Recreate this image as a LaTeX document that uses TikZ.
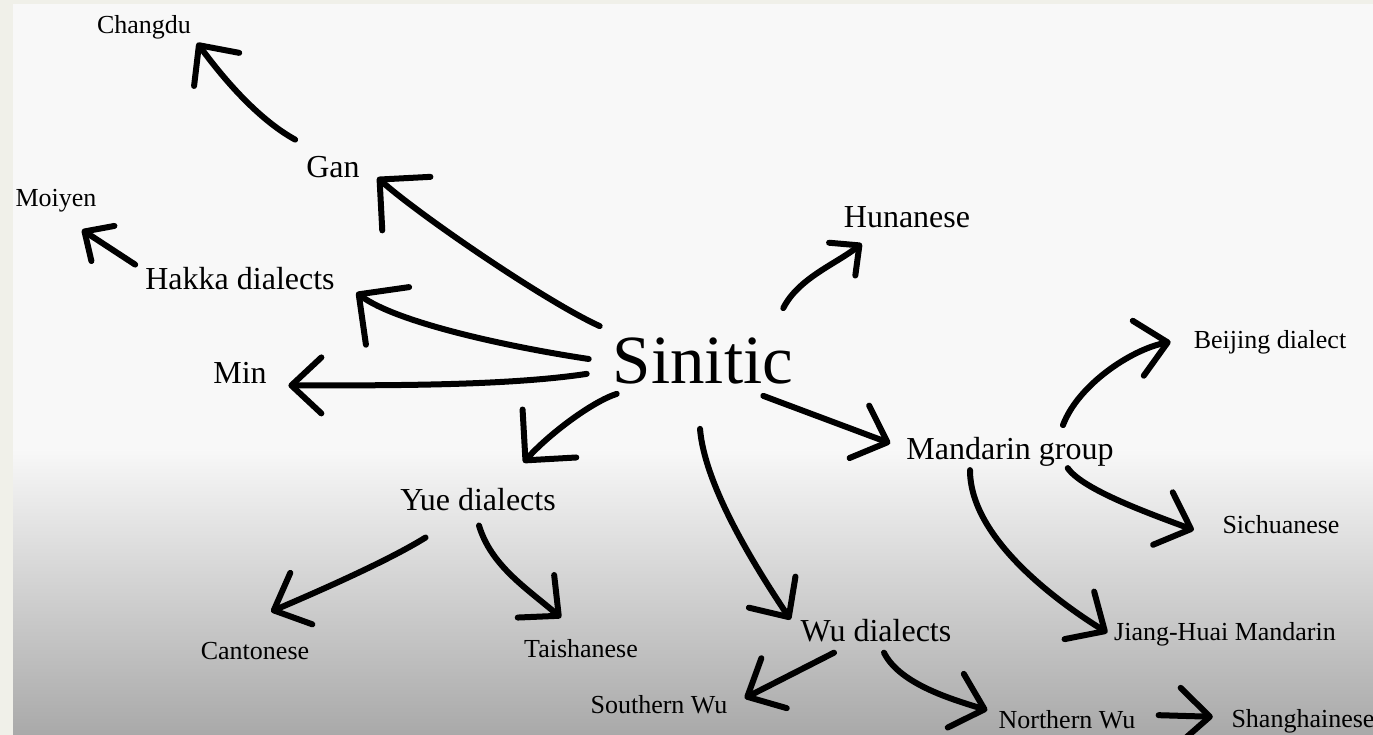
\documentclass[tikz,border=0pt]{standalone}
\usepackage{fontspec}
\setmainfont{Liberation Serif}
\usepackage{tikz}
\usetikzlibrary{backgrounds, arrows.meta}
\definecolor{marble}{RGB}{240,240,233}
\definecolor{paper}{RGB}{248,248,248}
\definecolor{paperlow}{RGB}{214,214,214}
\definecolor{paperend}{RGB}{169,169,169}
\tikzstyle{huge} = [inner sep=0pt, anchor=base, font=\fontsize{69}{80}\selectfont]
\tikzstyle{mid} = [inner sep=0pt, anchor=base, font=\fontsize{32}{38}\selectfont]
\tikzstyle{leaf} = [inner sep=0pt, anchor=base, font=\fontsize{26}{31}\selectfont]
\tikzstyle{hand} = [line width=6pt, line cap=round, line join=round]
\tikzstyle{bighead} = [-{Straight Barb[length=36pt,width=72pt,round]}]
\tikzstyle{midhead} = [-{Straight Barb[length=30pt,width=56pt,round]}]
\tikzstyle{smallhead} = [-{Straight Barb[length=22pt,width=42pt,round]}]

\begin{document}
\begin{tikzpicture}[x=1pt,y=-1pt]

\useasboundingbox (0,0) rectangle (1373,735);

\node (sinitic) [huge] at (703,383) {Sinitic};
\node (gan) [mid] at (333,178) {Gan};
\node (changdu) [leaf] at (144,34) {Changdu};
\node (hakka) [mid] at (240,290) {Hakka dialects};
\node (moiyen) [leaf] at (56,207) {Moiyen};
\node (min) [mid] at (240,383) {Min};
\node (hunanese) [mid] at (907,228) {Hunanese};
\node (mandarin) [mid] at (1010,459) {Mandarin group};
\node (beijing) [leaf] at (1270,348) {Beijing dialect};
\node (sichuanese) [leaf] at (1281,533) {Sichuanese};
\node (jianghuai) [leaf] at (1225,640) {Jiang-Huai Mandarin};
\node (yue) [mid] at (478,510) {Yue dialects};
\node (cantonese) [leaf] at (255,659) {Cantonese};
\node (taishanese) [leaf] at (581,657) {Taishanese};
\node (wu) [mid] at (876,641) {Wu dialects};
\node (southernwu) [leaf] at (659,713) {Southern Wu};
\node (northernwu) [leaf] at (1067,728) {Northern Wu};
\node (shanghainese) [leaf] at (1303,727) {Shanghainese};

\begin{scope}[on background layer]
    \fill[marble] (0,0) rectangle (1373,735);
    \fill[paper] (13,4) rectangle (1373,450);
    \shade[top color=paper, middle color=paperlow, bottom color=paperend] (13,449) rectangle (1373,735);
\end{scope}

% west side
\draw[hand,bighead] ([shift={(-13,-11)}]sinitic.north west) .. controls +(-55,-25) and +(40,36) .. ([shift={(17.5,-1)}]gan.south east);
\draw[hand,midhead] ([shift={(-11,-17)}]gan.north west) .. controls +(-40,-22) and +(22,30) .. ([shift={(6,3)}]changdu.south east);
\draw[hand,bighead] ([shift={(-24,-1.5)}]sinitic.west) .. controls +(-80,-12) and +(40,30) .. ([shift={(21.5,2)}]hakka.south east);
\draw[hand,smallhead] ([shift={(-10,-3)}]hakka.north west) -- ([shift={(26,17)}]moiyen.south);
\draw[hand,midhead] ([shift={(-26,-10)}]sinitic.south west) .. controls +(-80,12) and +(100,0) .. ([shift={(21.5,13)}]min.east);

% east side
\draw[hand,smallhead] ([shift={(-10,-29)}]sinitic.north east) .. controls +(15,-30) and +(-25,20) .. ([shift={(18,15)}]hunanese.south west);
\draw[hand,midhead] ([shift={(-30,12)}]sinitic.south east) -- ([shift={(-16,-8)}]mandarin.west);
\draw[hand,midhead] ([shift={(53,-11.5)}]mandarin.north) .. controls +(15,-40) and +(-40,8) .. ([shift={(-23,0)}]beijing.west);
\draw[hand,midhead] ([shift={(-46,2)}]mandarin.south east) .. controls +(15,22) and +(-40,-15) .. ([shift={(-28.5,6)}]sichuanese.west);
\draw[hand,midhead] ([shift={(-40,4)}]mandarin.south) .. controls +(0,70) and +(-45,-28) .. ([shift={(-6.6,-1)}]jianghuai.west);

% south side
\draw[hand,bighead] ([shift={(4,10)}]sinitic.south west) .. controls +(-25,8) and +(25,-28) .. ([shift={(-32.5,-25)}]yue.north east);
\draw[hand,midhead] ([shift={(25.5,27)}]yue.south west) .. controls +(-40,25) and +(35,-15) .. ([shift={(16,-30)}]cantonese.north);
\draw[hand,midhead] ([shift={(1,15)}]yue.south) .. controls +(12,40) and +(-35,-30) .. ([shift={(-20,-21)}]taishanese.north);
\draw[hand,midhead] ([shift={(-3,45)}]sinitic.south) .. controls +(5,60) and +(-30,-45) .. ([shift={(-10,1)}]wu.north west);
\draw[hand,midhead] ([shift={(-42,11)}]wu.south) -- ([shift={(17,-6)}]southernwu.east);
\draw[hand,midhead] ([shift={(8,11)}]wu.south) .. controls +(15,30) and +(-40,-12) .. ([shift={(-11,-9)}]northernwu.west);
\draw[hand,midhead] ([shift={(23,-4)}]northernwu.east) -- ([shift={(-18.5,-4)}]shanghainese.west);

\end{tikzpicture}
\end{document}
